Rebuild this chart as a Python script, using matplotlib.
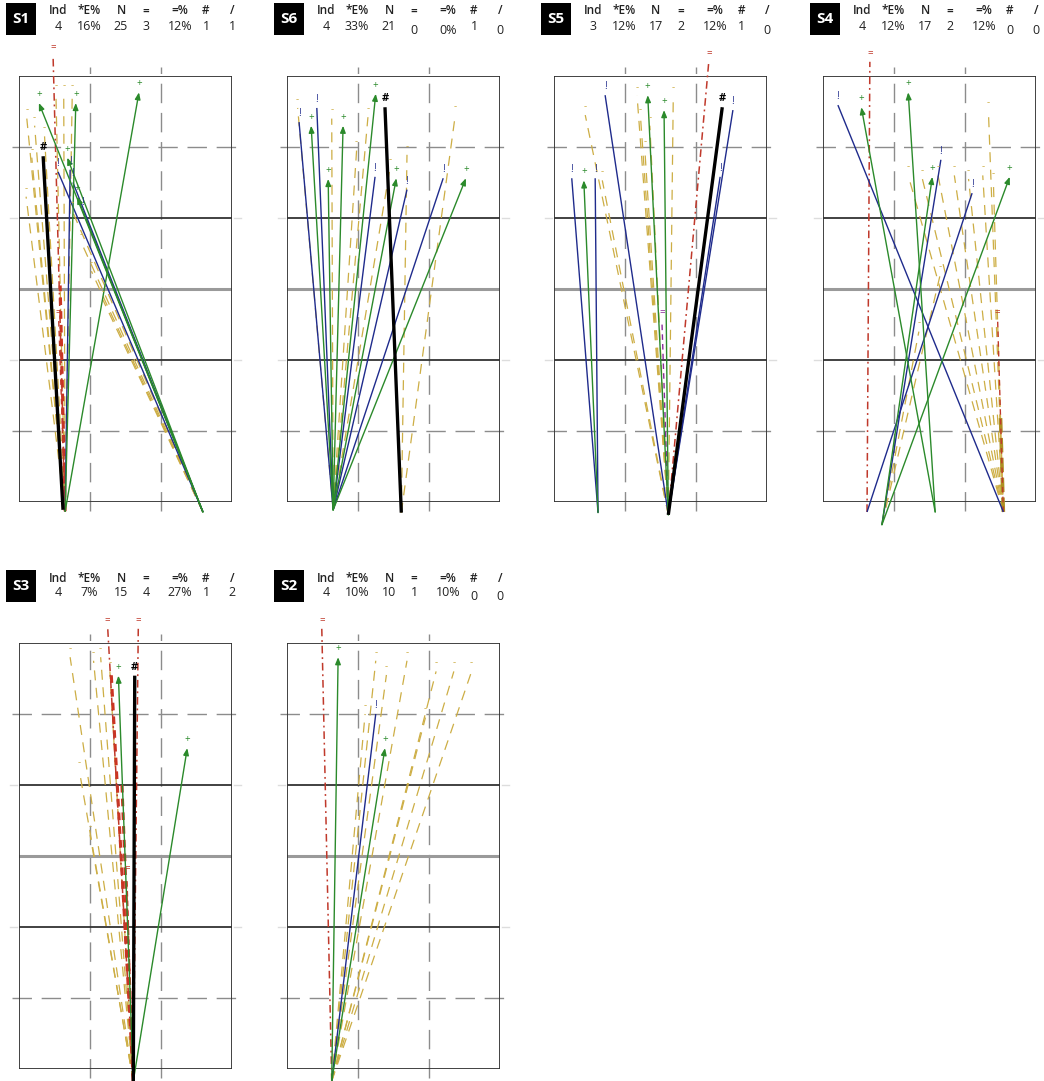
import matplotlib
matplotlib.use("Agg")
import matplotlib.pyplot as plt
from matplotlib.patches import Rectangle

plt.rcParams['font.family'] = ['Open Sans', 'DejaVu Sans']

W, H = 1044, 1081
PX = 72 / 100  # points per pixel at dpi 100

# ---- data -------------------------------------------------------------
STAT_HEADERS = ['Ind', '*E%', 'N', '=', '=%', '#', '/']
PANEL_NAMES = ['S1', 'S6', 'S5', 'S4', 'S3', 'S2']

STATS_S1 = ['4', '16%', '25', '3', '12%', '1', '1']
STATS_S6 = ['4', '33%', '21', '0', '0%', '1', '0']
STATS_S5 = ['3', '12%', '17', '2', '12%', '1', '0']
STATS_S4 = ['4', '12%', '17', '2', '12%', '0', '0']
STATS_S3 = ['4', '7%', '15', '4', '27%', '1', '2']
STATS_S2 = ['4', '10%', '10', '1', '10%', '0', '0']

# segments: (kind, x_start, y_start, x_end, y_end) in grid units (3 wide, 6 tall)
S1_LINES = [
    ('y', 0.65, -0.13, 0.11, 5.40), ('y', 0.65, -0.13, 0.22, 5.30),
    ('y', 0.65, -0.13, 0.36, 5.15), ('y', 0.65, -0.13, 0.18, 4.85),
    ('y', 0.65, -0.13, 0.10, 4.30), ('y', 0.65, -0.13, 0.52, 5.75),
    ('y', 0.65, -0.13, 0.63, 5.75), ('y', 0.65, -0.13, 0.75, 5.75),
    ('y', 2.59, -0.14, 0.75, 4.10), ('y', 2.59, -0.14, 0.88, 3.65),
    ('y', 2.59, -0.14, 1.02, 3.25), ('y', 2.59, -0.14, 1.18, 2.85),
    ('R', 0.65, -0.13, 0.58, 3.05), ('e', 0.65, -0.13, 0.56, 2.55),
    ('r', 0.65, -0.13, 0.48, 6.28),
    ('b', 0.65, -0.13, 0.72, 4.68),
    ('g', 0.65, -0.13, 0.80, 5.62), ('g', 0.65, -0.13, 1.69, 5.77),
    ('g', 2.59, -0.14, 0.28, 5.62), ('b', 2.59, -0.14, 0.55, 4.65),
    ('g', 2.59, -0.14, 0.68, 4.85), ('b', 2.59, -0.14, 0.76, 4.50),
    ('g', 2.59, -0.14, 0.82, 4.30), ('b', 2.59, -0.14, 0.90, 4.10),
    ('k', 0.62, -0.11, 0.34, 4.87),
]
S6_LINES = [
    ('y', 0.65, -0.11, 0.15, 5.55), ('y', 0.65, -0.11, 0.63, 5.40),
    ('y', 0.65, -0.11, 1.14, 5.42), ('y', 0.65, -0.11, 0.98, 4.95),
    ('y', 0.65, -0.11, 1.45, 4.70), ('y', 1.61, -0.15, 1.69, 4.89),
    ('y', 1.61, -0.15, 2.37, 5.45),
    ('b', 0.65, -0.11, 0.17, 5.35), ('b', 0.65, -0.11, 0.42, 5.55),
    ('g', 0.65, -0.11, 0.34, 5.30), ('g', 0.65, -0.11, 0.79, 5.30),
    ('g', 0.65, -0.11, 0.58, 4.55), ('g', 0.65, -0.11, 1.25, 5.75),
    ('b', 0.65, -0.11, 1.24, 4.58), ('g', 0.65, -0.11, 1.54, 4.56),
    ('b', 0.65, -0.11, 1.69, 4.40), ('b', 0.65, -0.11, 2.20, 4.56),
    ('g', 0.65, -0.11, 2.52, 4.56),
    ('k', 1.61, -0.15, 1.38, 5.56),
]
S5_LINES = [
    ('y', 1.61, -0.18, 0.44, 5.45), ('y', 1.61, -0.18, 0.68, 4.53),
    ('y', 1.61, -0.18, 1.17, 5.72), ('y', 1.61, -0.18, 1.22, 5.40),
    ('y', 1.61, -0.18, 1.35, 5.30), ('y', 1.61, -0.18, 1.68, 5.72),
    ('y', 1.61, -0.18, 1.28, 4.95),
    ('p', 1.61, -0.18, 1.52, 2.55), ('r', 1.61, -0.18, 2.18, 6.20),
    ('b', 1.61, -0.18, 0.72, 5.73), ('g', 1.61, -0.18, 1.32, 5.73),
    ('g', 1.61, -0.18, 1.55, 5.52), ('b', 1.61, -0.18, 2.34, 4.58),
    ('b', 1.61, -0.18, 2.52, 5.52),
    ('b', 0.62, -0.15, 0.25, 4.56), ('g', 0.62, -0.15, 0.42, 4.53),
    ('b', 0.62, -0.15, 0.58, 4.56),
    ('k', 1.61, -0.18, 2.37, 5.56),
]
S4_LINES = [
    ('y', 2.54, -0.14, 1.20, 4.60), ('y', 2.54, -0.14, 1.40, 4.55),
    ('y', 2.54, -0.14, 1.62, 4.60), ('y', 2.54, -0.14, 1.85, 4.60),
    ('y', 2.54, -0.14, 2.05, 4.55), ('y', 2.54, -0.14, 2.25, 4.60),
    ('y', 2.54, -0.14, 2.40, 4.50), ('y', 2.54, -0.14, 2.33, 5.50),
    ('y', 0.83, -0.32, 1.65, 3.20), ('y', 0.83, -0.32, 1.35, 2.40),
    ('Y', 2.54, -0.14, 2.50, 1.20), ('e', 2.54, -0.14, 2.46, 2.55),
    ('r', 0.62, -0.14, 0.66, 6.20),
    ('b', 2.54, -0.14, 0.21, 5.59), ('g', 1.58, -0.14, 0.54, 5.56),
    ('g', 1.58, -0.14, 1.20, 5.77), ('g', 0.83, -0.32, 1.54, 4.58),
    ('b', 0.83, -0.32, 1.66, 4.82), ('b', 0.62, -0.14, 2.10, 4.35),
    ('g', 0.83, -0.32, 2.63, 4.58),
]
S3_LINES = [
    ('y', 1.61, -0.17, 0.72, 5.80), ('y', 1.61, -0.17, 1.05, 5.75),
    ('y', 1.61, -0.17, 1.15, 5.80), ('y', 1.61, -0.17, 1.28, 5.60),
    ('y', 1.61, -0.17, 0.85, 4.20), ('y', 1.61, -0.17, 1.00, 3.30),
    ('R', 1.61, -0.17, 1.30, 5.55), ('R', 1.61, -0.17, 1.45, 4.00),
    ('e', 1.61, -0.17, 1.52, 2.70),
    ('r', 1.61, -0.17, 1.25, 6.20), ('r', 1.61, -0.17, 1.68, 6.20),
    ('g', 1.61, -0.17, 1.40, 5.54), ('g', 1.61, -0.17, 2.37, 4.52),
    ('k', 1.61, -0.17, 1.63, 5.54),
]
S2_LINES = [
    ('y', 0.63, -0.17, 1.25, 5.75), ('y', 0.63, -0.17, 1.69, 5.75),
    ('y', 0.63, -0.17, 1.40, 5.55), ('y', 0.63, -0.17, 2.10, 5.60),
    ('y', 0.63, -0.17, 2.35, 5.60), ('y', 0.63, -0.17, 2.60, 5.60),
    ('y', 0.63, -0.17, 1.95, 4.95), ('y', 0.63, -0.17, 1.10, 5.00),
    ('r', 0.63, -0.17, 0.49, 6.20),
    ('g', 0.63, -0.17, 0.72, 5.80), ('b', 0.63, -0.17, 1.25, 5.00),
    ('g', 0.63, -0.17, 1.38, 4.52),
]

# ---- styles -----------------------------------------------------------
STYLE = {
    'y': dict(color='#cdae45', lw=0.9, dashes=(8, 6)),
    'Y': dict(color='#ad8f22', lw=2.6, dashes=(4, 1.5)),
    'g': dict(color='#2b8a2b', lw=1.0),
    'b': dict(color='#1f2b8c', lw=1.0),
    'k': dict(color='black', lw=2.4),
    'r': dict(color='#c0392b', lw=1.1, dashes=(5, 2.5, 1.2, 2.5)),
    'R': dict(color='#cc3322', lw=2.2, dashes=(2.5, 2)),
    'e': dict(color='#c0392b', lw=1.0, dashes=(4, 3)),
    'p': dict(color='#8a2b9a', lw=1.0, dashes=(4, 3)),
}
GLYPH = {'y': '-', 'g': '+', 'b': '!', 'k': '#', 'r': '=', 'e': '=', 'p': '='}
ORDER = ['y', 'Y', 'R', 'e', 'p', 'r', 'b', 'g', 'k']

COL_OFFSETS = [39, 70, 102, 127, 161, 187, 213]  # px from panel left


def draw_panel(fig, name, stats, lines, left, top, w=213, h=426):
    ax = fig.add_axes([left / W, 1 - (top + h) / H, w / W, h / H])
    ax.set_xlim(0, 3)
    ax.set_ylim(0, 6)
    ax.axis('off')

    # grid
    for x in (1, 2):
        ax.plot([x, x], [-0.12, 6.12], color='#8c8c8c', lw=1.0,
                dashes=(14, 7), clip_on=False, zorder=1)
    for y in (1, 5):
        ax.plot([-0.1, 3.1], [y, y], color='#8c8c8c', lw=1.0,
                dashes=(14, 7), clip_on=False, zorder=1)
    for y in (2, 4):
        ax.plot([0, 3], [y, y], color='#333333', lw=1.3, zorder=1)
        ax.plot([-0.12, -0.03], [y, y], color='#dddddd', lw=1, clip_on=False)
        ax.plot([3.03, 3.12], [y, y], color='#dddddd', lw=1, clip_on=False)
    ax.plot([0, 3], [3, 3], color='#9a9a9a', lw=2.2, zorder=1)
    ax.add_patch(Rectangle((0, 0), 3, 6, fill=False, ec='#333333',
                           lw=1.3, zorder=1))

    # lines
    for kind in ORDER:
        st = STYLE[kind]
        for k, x0, y0, x1, y1 in lines:
            if k != kind:
                continue
            if kind == 'g':
                ax.annotate('', xy=(x1, y1), xytext=(x0, y0),
                            arrowprops=dict(arrowstyle='-|>,head_length=0.45,head_width=0.18',
                                            color=st['color'], lw=st['lw'],
                                            shrinkA=0, shrinkB=0, mutation_scale=9),
                            annotation_clip=False, zorder=4)
            else:
                kw = dict(color=st['color'], lw=st['lw'], clip_on=False,
                          solid_capstyle='butt', zorder=5 if kind == 'k' else 3)
                if 'dashes' in st:
                    kw['dashes'] = st['dashes']
                ax.plot([x0, x1], [y0, y1], **kw)
            g = GLYPH.get(kind)
            if g:
                ax.annotate(g, xy=(x1, y1), xytext=(0, 3 * PX),
                            textcoords='offset points', ha='center', va='bottom',
                            fontsize=7 if kind != 'k' else 8,
                            fontweight='bold' if kind == 'k' else 'normal',
                            color=st['color'], annotation_clip=False, zorder=6)

    # header: label box
    ax.add_patch(Rectangle((2 / 71 - 15 / 71, 6 + (57 - 16) / 71), 30 / 71, 32 / 71,
                           fc='black', ec='none', clip_on=False))
    ax.text(2 / 71, 6 + 57 / 71, name, color='white', fontsize=11,
            fontweight='bold', ha='center', va='center', clip_on=False)

    for off, head, val in zip(COL_OFFSETS, STAT_HEADERS, stats):
        ax.annotate(head, xy=(0, 6), xytext=(off * PX, 65 * PX),
                    textcoords='offset points', ha='center', va='center',
                    fontsize=8.5, fontweight='semibold', color='#222222',
                    annotation_clip=False)
        dy = 46 if val.startswith('0') else 50
        ax.annotate(val, xy=(0, 6), xytext=(off * PX, dy * PX),
                    textcoords='offset points', ha='center', va='center',
                    fontsize=9, color='#222222', annotation_clip=False)
    return ax


fig = plt.figure(figsize=(W / 100, H / 100), dpi=100)
fig.patch.set_facecolor('white')

panel_stats = [STATS_S1, STATS_S6, STATS_S5, STATS_S4, STATS_S3, STATS_S2]
panel_lines = [S1_LINES, S6_LINES, S5_LINES, S4_LINES, S3_LINES, S2_LINES]
panel_pos = [(19, 76), (287, 76), (554, 76), (823, 76), (19, 643), (287, 643)]

for name, stats, lines, (left, top) in zip(PANEL_NAMES, panel_stats, panel_lines, panel_pos):
    draw_panel(fig, name, stats, lines, left, top)

fig.savefig('out.png', dpi=100, facecolor='white')
